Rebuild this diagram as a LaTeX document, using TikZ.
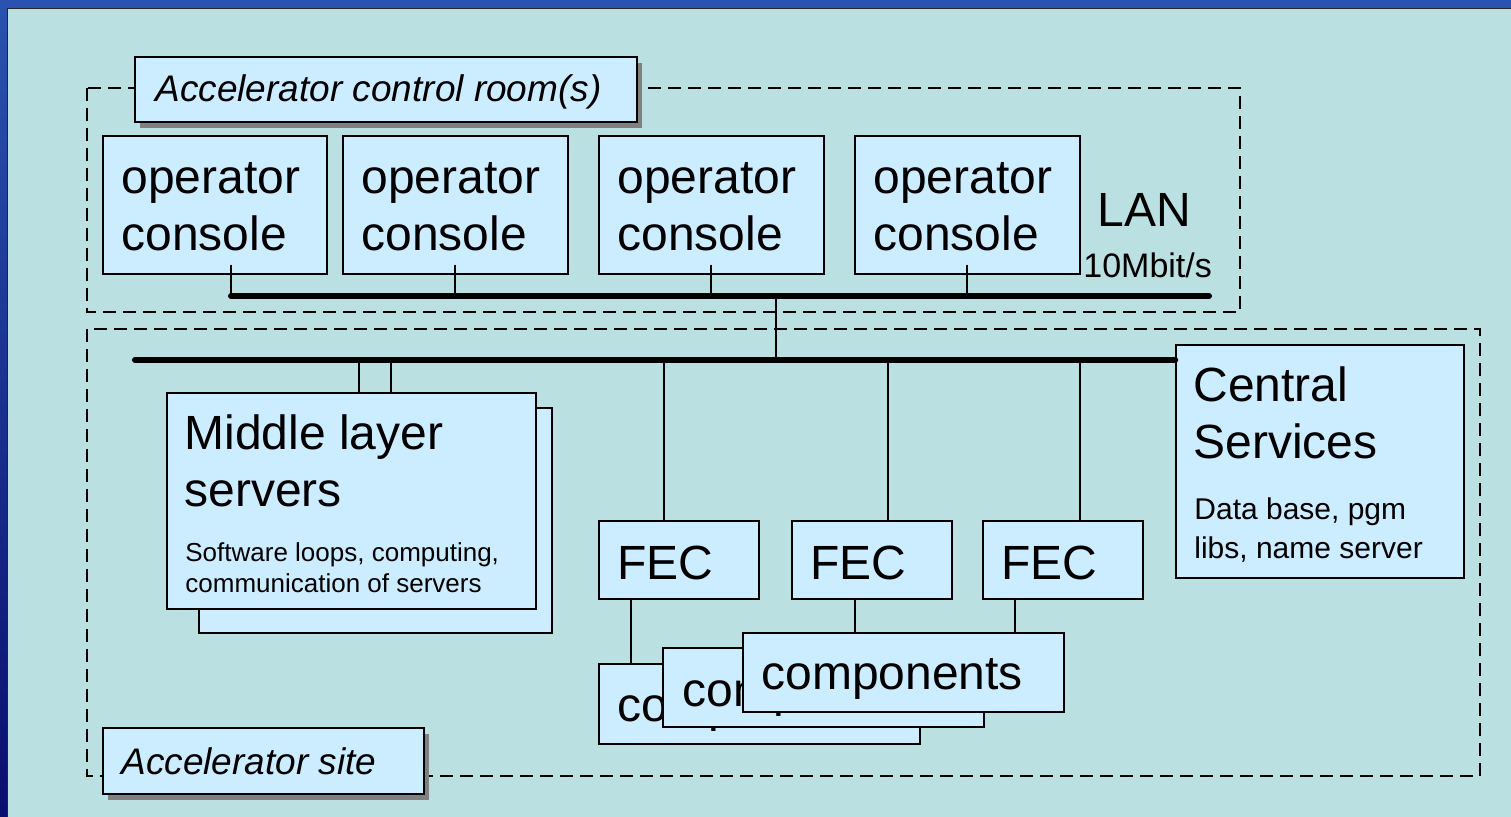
\documentclass[tikz,border=0pt]{standalone}
\usepackage{fontspec}
\setmainfont{Liberation Sans}
\usetikzlibrary{fit,calc,shadows}

\definecolor{slidebg}{RGB}{186,224,226}
\definecolor{boxfill}{RGB}{204,236,255}
\definecolor{bandtop}{RGB}{42,82,176}
\definecolor{bandbot}{RGB}{10,14,110}
\definecolor{shadowgray}{RGB}{128,128,128}

\tikzset{
  box/.style={draw=black, line width=0.8pt, fill=boxfill, inner sep=0pt},
  tagbox/.style={box, drop shadow={shadow xshift=2.5pt, shadow yshift=-3pt,
      opacity=1, fill=shadowgray}},
  zone/.style={draw=black, line width=0.9pt, dash pattern=on 6.5pt off 3.5pt},
  wire/.style={draw=black, line width=0.9pt},
  bus/.style={draw=black, line width=3pt, line cap=round},
  txt/.style={inner sep=0pt, anchor=base west, align=left},
  big/.style={txt, font=\fontsize{24}{28.5}\selectfont},
  tagtext/.style={txt, font=\fontsize{18.5}{22}\selectfont\itshape},
  midtext/.style={txt, font=\fontsize{13}{15.5}\selectfont},
  csvtext/.style={txt, font=\fontsize{15}{19.5}\selectfont},
  rate/.style={txt, font=\fontsize{17}{20}\selectfont},
}

\begin{document}
\begin{tikzpicture}[x=0.5pt, y=-0.5pt]
\useasboundingbox (0,0) rectangle (1511,817);

% slide frame
\shade[top color=bandtop, bottom color=bandbot] (0,0) rectangle (8,817);
\fill[bandtop] (0,0) rectangle (1511,9);
\fill[slidebg] (8,9) rectangle (1511,817);
\draw[black!85, line width=0.6pt] (7.5,817) -- (7.5,8.5) -- (1511,8.5);

% dashed zones
\draw[zone] (87,88) rectangle (1240,312);
\draw[zone] (87,329) rectangle (1480,776);

% zone tags
\node[tagbox, fit={(135,57) (637,122)}] (tagroom) {};
\node[tagtext] (tagroomt) at (155,102) {Accelerator control room(s)};
\node[tagbox, fit={(103,728) (424,794)}] (tagsite) {};
\node[tagtext] (tagsitet) at (121,775) {Accelerator site};

% operator consoles (multi-line texts are anchored at their last baseline)
\node[box, fit={(103,136) (327,274)}] (con1) {};
\node[box, fit={(343,136) (568,274)}] (con2) {};
\node[box, fit={(599,136) (824,274)}] (con3) {};
\node[box, fit={(855,136) (1080,274)}] (con4) {};
\node[big] (con1t) at (121,251) {operator\\console};
\node[big] (con2t) at (361,251) {operator\\console};
\node[big] (con3t) at (617,251) {operator\\console};
\node[big] (con4t) at (873,251) {operator\\console};

% control room LAN
\coordinate (lanL) at (231,296);
\coordinate (lanR) at (1209,296);
\draw[bus] (lanL) -- (lanR);
\node[big] (lant) at (1097,227) {LAN};
\node[rate] (ratet) at (1083,278) {10Mbit/s};

\coordinate (tap1) at ($(con1.south west)+(129,-10)$);
\coordinate (tap2) at ($(con2.south west)+(113,-10)$);
\coordinate (tap3) at ($(con3.south west)+(113,-10)$);
\coordinate (tap4) at ($(con4.south west)+(113,-10)$);
\foreach \t in {tap1,tap2,tap3,tap4}
  \draw[wire] (\t) -- (\t |- lanL);

% site network
\node[box, fit={(1176,345) (1464,578)}] (csv) {};
\coordinate (siteL) at (135,360);
\draw[bus] (siteL) -- (siteL -| csv.west);
\coordinate (link) at (776,360);
\draw[wire] (link) -- (link |- lanL);

\node[big] (csvt) at (1193,459) {Central\\Services};
\node[csvtext] (csvs) at (1194,559) {Data base, pgm\\libs, name server};

% middle layer servers
\node[box, fit={(199,408) (552,633)}] (mlsback) {};
\node[box, fit={(167,393) (536,609)}] (mls) {};
\node[big] (mlst) at (184,507) {Middle layer\\servers};
\node[midtext] (mlss) at (185,593) {Software loops, computing,\\communication of servers};
\coordinate (m1) at (359,360);
\coordinate (m2) at (391,360);
\draw[wire] (m1) -- (m1 |- mls.north);
\draw[wire] (m2) -- (m2 |- mls.north);

% front end computers
\node[box, fit={(599,521) (759,599)}] (fec1) {};
\node[box, fit={(792,521) (952,599)}] (fec2) {};
\node[box, fit={(983,521) (1143,599)}] (fec3) {};
\node[big] (fec1t) at (617,580) {FEC};
\node[big] (fec2t) at (810,580) {FEC};
\node[big] (fec3t) at (1001,580) {FEC};
\coordinate (f1) at (664,360);
\coordinate (f2) at (888,360);
\coordinate (f3) at (1080,360);
\draw[wire] (f1) -- (f1 |- fec1.north);
\draw[wire] (f2) -- (f2 |- fec2.north);
\draw[wire] (f3) -- (f3 |- fec3.north);

% components, stacked
\node[box, fit={(599,664) (920,744)}] (comp1) {};
\node[big] (comp1t) at (617,722) {components};
\node[box, fit={(663,648) (984,727)}] (comp2) {};
\node[big] (comp2t) at (682,707) {components};
\node[box, fit={(743,633) (1064,712)}] (comp3) {};
\node[big] (comp3t) at (761,690) {components};
\coordinate (c1) at ($(fec1.south west)+(33,0)$);
\coordinate (c2) at ($(fec2.south west)+(64,0)$);
\coordinate (c3) at ($(fec3.south west)+(33,0)$);
\draw[wire] (c1) -- (c1 |- comp1.north);
\draw[wire] (c2) -- (c2 |- comp3.north);
\draw[wire] (c3) -- (c3 |- comp3.north);
\end{tikzpicture}
\end{document}
